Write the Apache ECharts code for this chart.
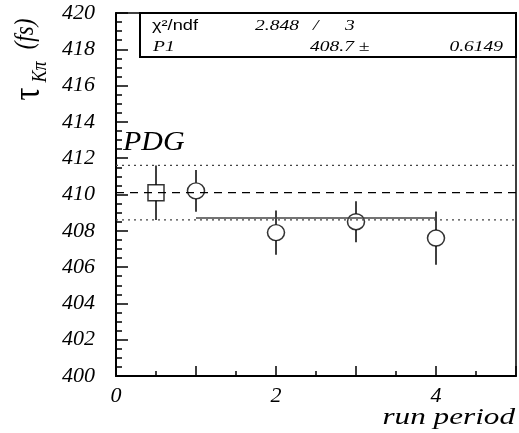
<!DOCTYPE html>
<html>
<head>
<meta charset="utf-8">
<script src="https://cdn.jsdelivr.net/npm/echarts@6/dist/echarts.min.js"></script>
<style>html,body{margin:0;padding:0;background:#fff}#c{width:519px;height:433px}</style>
</head>
<body>
<div id="c"></div>
<script>
// ---- data ----
const runPeriods = [1, 2, 3, 4];
const tauValues = [410.2, 407.9, 408.5, 407.6];
const tauErrors = [1.15, 1.22, 1.13, 1.47];
const pdgX = 0.5;
const pdgValue = 410.1;
const pdgError = 1.5;
const fitValue = 408.7;
const fitError = 0.6149;
const fitRange = [1, 4];
const chi2 = 2.848;
const ndf = 3;
const xRange = [0, 5];
const yRange = [400, 420];

const serif = 'Liberation Serif';
const chart = echarts.init(document.getElementById('c'));

const errData = runPeriods.map((x, i) => [x, tauValues[i], tauErrors[i], 8]);
errData.push([pdgX, pdgValue, pdgError, 8]);

const labelRich = { n: { fontFamily: serif, fontStyle: 'italic', fontSize: 22, color: '#000' } };

const option = {
  animation: false,
  textStyle: { fontFamily: serif, fontStyle: 'italic' },
  grid: { left: 116, right: 3, top: 13, bottom: 57, show: true, borderColor: '#000', borderWidth: 1.5, backgroundColor: 'transparent' },
  xAxis: {
    type: 'value', min: xRange[0], max: xRange[1], interval: 1,
    axisLine: { lineStyle: { color: '#000', width: 2 } },
    axisTick: { inside: true, length: 10, lineStyle: { color: '#000', width: 1.5 } },
    minorTick: { show: true, splitNumber: 2, length: 5, lineStyle: { color: '#000', width: 1.5 } },
    splitLine: { show: false },
    axisLabel: { formatter: v => (v % 2 === 0 ? '{n|' + v + '}' : ''), rich: labelRich, fontFamily: serif, fontStyle: 'italic', fontSize: 22, color: '#000', margin: 9 }
  },
  yAxis: {
    type: 'value', min: yRange[0], max: yRange[1], interval: 2,
    axisLine: { lineStyle: { color: '#000', width: 2 } },
    axisTick: { inside: true, length: 12, lineStyle: { color: '#000', width: 1.5 } },
    minorTick: { show: true, splitNumber: 4, length: 6, lineStyle: { color: '#000', width: 1.5 } },
    splitLine: { show: false },
    axisLabel: { formatter: v => '{n|' + v + '}', rich: labelRich, fontFamily: serif, fontStyle: 'italic', fontSize: 22, color: '#000', margin: 21 }
  },
  series: [
    { type: 'line', silent: true, symbol: 'none', data: [[xRange[0], pdgValue], [xRange[1], pdgValue]],
      lineStyle: { color: '#000', width: 1.2, type: [8, 6] } },
    { type: 'line', silent: true, symbol: 'none', data: [[xRange[0], pdgValue + pdgError], [xRange[1], pdgValue + pdgError]],
      lineStyle: { color: '#444', width: 1.2, type: [2, 4] } },
    { type: 'line', silent: true, symbol: 'none', data: [[xRange[0], pdgValue - pdgError], [xRange[1], pdgValue - pdgError]],
      lineStyle: { color: '#444', width: 1.2, type: [2, 4] } },
    { type: 'line', silent: true, symbol: 'none', data: [[fitRange[0], fitValue], [fitRange[1], fitValue]],
      lineStyle: { color: '#444', width: 1.5 } },
    { type: 'custom', silent: true, data: errData,
      renderItem: function (params, api) {
        const x = api.value(0), y = api.value(1), e = api.value(2), g = api.value(3);
        const top = api.coord([x, y + e]);
        const c = api.coord([x, y]);
        const bot = api.coord([x, y - e]);
        const st = { stroke: '#000', lineWidth: 1.5 };
        return { type: 'group', children: [
          { type: 'line', shape: { x1: c[0], y1: top[1], x2: c[0], y2: c[1] - g }, style: st },
          { type: 'line', shape: { x1: c[0], y1: c[1] + g, x2: c[0], y2: bot[1] }, style: st }
        ] };
      } },
    { type: 'scatter', silent: true, symbol: 'circle', symbolSize: [17, 16],
      data: runPeriods.map((x, i) => [x, tauValues[i]]),
      itemStyle: { color: 'rgba(0,0,0,0)', borderColor: '#000', borderWidth: 1.5 } },
    { type: 'scatter', silent: true, symbol: 'rect', symbolSize: 16,
      data: [[pdgX, pdgValue]],
      itemStyle: { color: 'rgba(0,0,0,0)', borderColor: '#000', borderWidth: 1.5 } }
  ],
  graphic: [
    { type: 'rect', shape: { x: 140, y: 13, width: 376, height: 44 }, style: { fill: '#fff', stroke: '#000', lineWidth: 2 }, z: 10 },
    { type: 'text', x: 152, y: 26, scaleX: 1.3, z: 11, style: { text: 'χ²/ndf', font: '14px "Liberation Sans"', fill: '#000', verticalAlign: 'middle' } },
    { type: 'text', x: 255, y: 26, scaleX: 1.3, z: 11, style: { text: chi2.toFixed(3), font: 'italic 15px "Liberation Serif"', fill: '#000', verticalAlign: 'middle' } },
    { type: 'text', x: 313, y: 26, scaleX: 1.3, z: 11, style: { text: '/', font: 'italic 15px "Liberation Serif"', fill: '#000', verticalAlign: 'middle' } },
    { type: 'text', x: 345, y: 26, scaleX: 1.3, z: 11, style: { text: String(ndf), font: 'italic 15px "Liberation Serif"', fill: '#000', verticalAlign: 'middle' } },
    { type: 'text', x: 153, y: 47, scaleX: 1.3, z: 11, style: { text: 'P1', font: 'italic 15px "Liberation Serif"', fill: '#000', verticalAlign: 'middle' } },
    { type: 'text', x: 310, y: 47, scaleX: 1.3, z: 11, style: { text: fitValue.toFixed(1) + ' ±', font: 'italic 15px "Liberation Serif"', fill: '#000', verticalAlign: 'middle' } },
    { type: 'text', x: 503, y: 47, scaleX: 1.3, z: 11, style: { text: String(fitError), font: 'italic 15px "Liberation Serif"', fill: '#000', verticalAlign: 'middle', align: 'right' } },
    { type: 'text', x: 123, y: 143, scaleX: 1.07, z: 11, style: { text: 'PDG', font: 'italic 28px "Liberation Serif"', fill: '#000', verticalAlign: 'middle' } },
    { type: 'text', x: 515, y: 418, scaleX: 1.3, z: 11, style: { text: 'run period', font: 'italic 24px "Liberation Serif"', fill: '#000', verticalAlign: 'middle', align: 'right' } },
    { type: 'text', x: 29, y: 94, rotation: Math.PI / 2, scaleY: 1.2, z: 11, style: { text: 'τ', font: '32px "Liberation Serif"', fill: '#000', verticalAlign: 'middle', align: 'center' } },
    { type: 'text', x: 40, y: 72, rotation: Math.PI / 2, scaleY: 1.2, z: 11, style: { text: 'Kπ', font: 'italic 18px "Liberation Serif"', fill: '#000', verticalAlign: 'middle', align: 'center' } },
    { type: 'text', x: 26, y: 34, rotation: Math.PI / 2, scaleY: 1.2, z: 11, style: { text: '(fs)', font: 'italic 23px "Liberation Serif"', fill: '#000', verticalAlign: 'middle', align: 'center' } }
  ]
};
chart.setOption(option);
</script>
</body>
</html>
